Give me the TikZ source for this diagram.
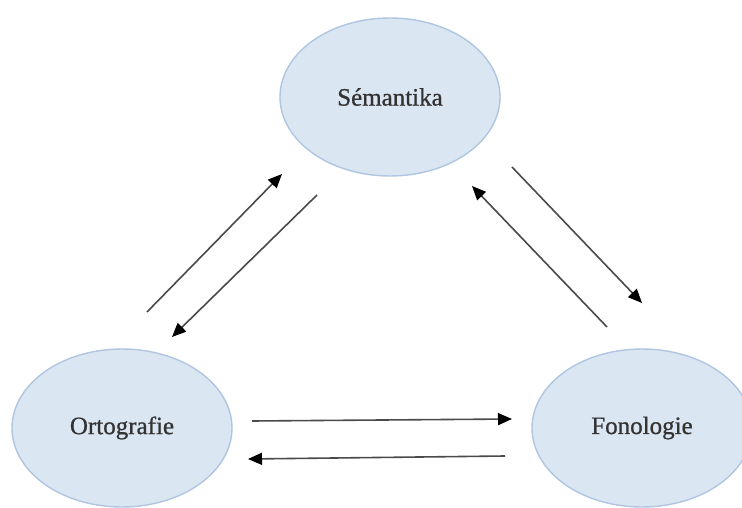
\documentclass[tikz,border=0pt]{standalone}
\usepackage{fontspec}
\setmainfont{Liberation Serif}[FakeBold=0.8]
\usetikzlibrary{shapes.geometric,arrows.meta}
\definecolor{bubblefill}{HTML}{DBE6F3}
\definecolor{bubbleedge}{HTML}{AFC5E0}
\definecolor{labeltext}{HTML}{333333}
\definecolor{linkline}{HTML}{4A4A4A}
\tikzset{
  bubble/.style={ellipse, draw=bubbleedge, line width=1.4pt, fill=bubblefill,
    minimum width=220pt, minimum height=158pt, inner sep=0pt,
    text=labeltext, font=\fontsize{25}{28}\selectfont},
  link/.style={draw=linkline, line width=1.6pt,
    -{Triangle[length=14pt,width=12pt,color=black,fill=black]}}
}
\begin{document}
\begin{tikzpicture}[x=1pt,y=-1pt]
  \useasboundingbox (0,0) rectangle (742,508);
  \fill[white] (0,0) rectangle (742,508);

  % the three concepts
  \node[bubble] (sem) at (390,97) {Sémantika};
  \node[bubble] (ort) at (122,428) {Ortografie};
  \node[bubble] (fon) at (642,428) {Fonologie};

  % end points of the paired arrows
  \coordinate (os1) at (147,312);
  \coordinate (os2) at (282,174);
  \coordinate (so1) at (317,195);
  \coordinate (so2) at (172,337);
  \coordinate (sf1) at (512,167);
  \coordinate (sf2) at (642,303);
  \coordinate (fs1) at (607,327);
  \coordinate (fs2) at (472,186);
  \coordinate (of1) at (252,421);
  \coordinate (of2) at (512,419);
  \coordinate (fo1) at (505,456);
  \coordinate (fo2) at (248,459);

  % Ortografie <-> Sémantika
  \draw[link] (os1) -- (os2);
  \draw[link] (so1) -- (so2);
  % Sémantika <-> Fonologie
  \draw[link] (sf1) -- (sf2);
  \draw[link] (fs1) -- (fs2);
  % Ortografie <-> Fonologie
  \draw[link] (of1) -- (of2);
  \draw[link] (fo1) -- (fo2);
\end{tikzpicture}
\end{document}
